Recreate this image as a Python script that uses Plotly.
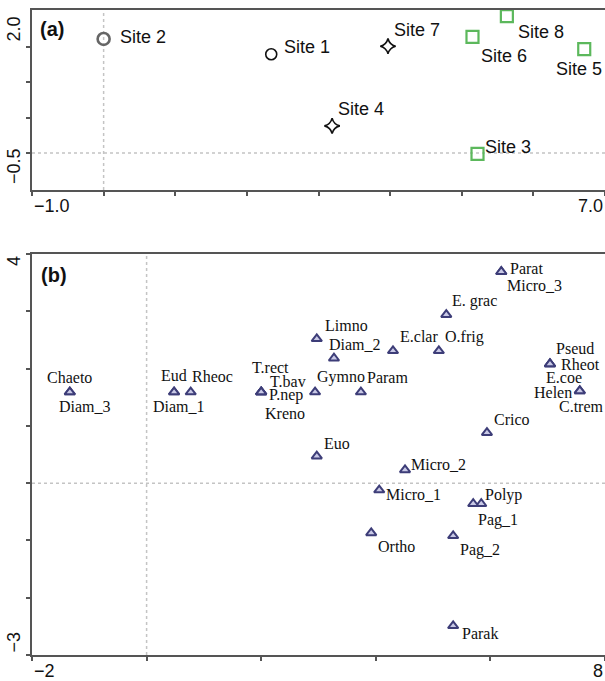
import plotly.graph_objects as go

# ---------------- Panel (a): sites ----------------
site_names = ["Site 1", "Site 2", "Site 3", "Site 4", "Site 5", "Site 6", "Site 7", "Site 8"]
site_x = [2.34, 0.0, 5.22, 3.19, 6.71, 5.15, 3.97, 5.63]
site_y = [1.83, 2.19, -0.52, 0.14, 1.95, 2.24, 2.02, 2.73]
site_group = ["circle", "circle_gray", "square", "star", "square", "square", "star", "square"]

a_xticks = [-1, 0, 1, 2, 3, 4, 5, 6, 7]
a_yticks = [2.0, 1.1667, 0.3333, -0.5]
a_xlabels = {-1: "\u22121.0", 7: "7.0"}
a_ylabels = {2.0: "2.0", -0.5: "\u22120.5"}

# ---------------- Panel (b): taxa ----------------
taxa = ["Chaeto", "Diam_3", "Eud", "Diam_1", "Rheoc", "T.rect", "T.bav", "P.nep", "Kreno",
        "Gymno", "Param", "Limno", "Diam_2", "E.clar", "O.frig", "E. grac", "Parat", "Micro_3",
        "Pseud", "Rheot", "E.coe", "Helen", "C.trem", "Crico", "Euo", "Micro_2", "Micro_1",
        "Polyp", "Pag_1", "Ortho", "Pag_2", "Parak"]
taxa_x = [-1.34, -1.34, 0.48, 0.48, 0.77, 2.0, 2.0, 2.0, 2.0,
          2.94, 3.74, 2.97, 3.27, 4.30, 5.10, 5.23, 6.19, 6.19,
          7.04, 7.04, 7.04, 7.56, 7.56, 5.94, 2.97, 4.51, 4.06,
          5.84, 5.70, 3.92, 5.35, 5.35]
taxa_y = [1.59, 1.59, 1.59, 1.59, 1.59, 1.59, 1.59, 1.59, 1.59,
          1.59, 1.59, 2.52, 2.18, 2.31, 2.31, 2.94, 3.69, 3.69,
          2.08, 2.08, 2.08, 1.61, 1.61, 0.88, 0.47, 0.23, -0.12,
          -0.36, -0.36, -0.87, -0.92, -2.49]

b_xticks = [-2, 0, 2, 4, 6, 8]
b_yticks = [4, 3, 2, 1, 0, -1, -2, -3]
b_xlabels = {-2: "\u22122", 8: "8"}
b_ylabels = {4: "4", -3: "\u22123"}

# ---------------- styles / label placement (pixels) ----------------
site_style = {
    "circle": dict(symbol="circle-open", size=11, color="#111111", line=dict(width=1.6, color="#111111")),
    "circle_gray": dict(symbol="circle-open", size=12, color="#666666", line=dict(width=2.6, color="#666666")),
    "star": dict(symbol="star-diamond-open", size=11, color="#111111", line=dict(width=1.6, color="#111111")),
    "square": dict(symbol="square-open", size=12, color="#5cb85c", line=dict(width=2.2, color="#5cb85c")),
}
# (xanchor, xshift, yshift)
site_label_pos = {
    "Site 1": ("left", 11, 7), "Site 2": ("left", 14, 2), "Site 3": ("left", 5, 7),
    "Site 4": ("left", 4, 17), "Site 5": ("left", -30, -20), "Site 6": ("left", 7, -19),
    "Site 7": ("left", 4, 16), "Site 8": ("left", 9, -16),
}
taxa_label_pos = {
    "Chaeto": ("center", 0, 15), "Diam_3": ("left", -13, -14), "Eud": ("center", 0, 17),
    "Diam_1": ("center", 5, -14), "Rheoc": ("left", -1, 16), "T.rect": ("left", -11, 25),
    "T.bav": ("left", 7, 11), "P.nep": ("left", 6, -3), "Kreno": ("left", 2, -21),
    "Gymno": ("left", 0, 15), "Param": ("left", 4, 15), "Limno": ("left", 6, 13),
    "Diam_2": ("left", -7, 14), "E.clar": ("left", 5, 14), "O.frig": ("left", 4, 14),
    "E. grac": ("left", 4, 14), "Parat": ("left", 7, 3), "Micro_3": ("left", 4, -14),
    "Pseud": ("left", 4, 15), "Rheot": ("left", 9, -1), "E.coe": ("left", -6, -14),
    "Helen": ("right", -6, -2), "C.trem": ("left", -23, -16), "Crico": ("left", 5, 13),
    "Euo": ("left", 5, 13), "Micro_2": ("left", 4, 5), "Micro_1": ("left", 5, -4),
    "Polyp": ("left", 2, 9), "Pag_1": ("left", 3, -16), "Ortho": ("left", 5, -14),
    "Pag_2": ("left", 5, -14), "Parak": ("left", 7, -8),
}

SANS = "Liberation Sans, Arial, sans-serif"
SERIF = "Liberation Serif, Times New Roman, serif"
AXC = "#555555"

fig = go.Figure()

# sites
for grp, st in site_style.items():
    idx = [i for i, g in enumerate(site_group) if g == grp]
    fig.add_trace(go.Scatter(
        x=[site_x[i] for i in idx], y=[site_y[i] for i in idx], mode="markers",
        marker=dict(symbol=st["symbol"], size=st["size"], color=st["color"], line=st["line"]),
        xaxis="x", yaxis="y", showlegend=False, cliponaxis=False, hoverinfo="skip"))

# taxa
fig.add_trace(go.Scatter(
    x=taxa_x, y=taxa_y, mode="markers",
    marker=dict(symbol="triangle-up", size=9, color="#c9c9e6", line=dict(width=2, color="#3d3d78")),
    xaxis="x2", yaxis="y2", showlegend=False, cliponaxis=False, hoverinfo="skip"))

annotations = []
for n, x, y in zip(site_names, site_x, site_y):
    xa, dx, dy = site_label_pos[n]
    annotations.append(dict(x=x, y=y, xref="x", yref="y", text=n, showarrow=False,
                            xanchor=xa, yanchor="middle", xshift=dx, yshift=dy,
                            font=dict(family=SANS, size=18, color="#111111")))
for n, x, y in zip(taxa, taxa_x, taxa_y):
    xa, dx, dy = taxa_label_pos[n]
    annotations.append(dict(x=x, y=y, xref="x2", yref="y2", text=n, showarrow=False,
                            xanchor=xa, yanchor="middle", xshift=dx, yshift=dy,
                            font=dict(family=SERIF, size=16, color="#111111")))

# tick labels
tick_font = dict(family=SANS, size=18, color="#111111")
for v, t in a_xlabels.items():
    annotations.append(dict(x=v, y=0, xref="x", yref="y domain", text=t, showarrow=False,
                            xanchor="left" if v == a_xticks[0] else "right", yanchor="top",
                            yshift=-4, font=tick_font))
for v, t in a_ylabels.items():
    annotations.append(dict(x=0, y=v, xref="paper", yref="y", text=t, showarrow=False,
                            textangle=-90, xanchor="right", xshift=-6,
                            yanchor="bottom" if v == a_yticks[0] else "top",
                            yshift=3 if v == a_yticks[0] else 7, font=tick_font))
for v, t in b_xlabels.items():
    annotations.append(dict(x=v, y=0, xref="x2", yref="y2 domain", text=t, showarrow=False,
                            xanchor="left" if v == b_xticks[0] else "right", yanchor="top",
                            yshift=-4, font=tick_font))
for v, t in b_ylabels.items():
    annotations.append(dict(x=0, y=v, xref="paper", yref="y2", text=t, showarrow=False,
                            textangle=-90, xanchor="right", xshift=-6,
                            yanchor="top" if v == b_yticks[0] else "bottom", font=tick_font))

# panel letters
annotations.append(dict(x=0, y=1, xref="x domain", yref="y domain", text="<b>(a)</b>", showarrow=False,
                        xanchor="left", yanchor="top", xshift=6, yshift=-6,
                        font=dict(family=SANS, size=20, color="#111111")))
annotations.append(dict(x=0, y=1, xref="x2 domain", yref="y2 domain", text="<b>(b)</b>", showarrow=False,
                        xanchor="left", yanchor="top", xshift=7, yshift=-8,
                        font=dict(family=SANS, size=20, color="#111111")))

# dotted reference lines
dot = dict(color="#c4c4c4", width=1.5, dash="dot")
shapes = [
    dict(type="line", xref="x", yref="y domain", x0=0, x1=0, y0=0, y1=1, line=dot, layer="below"),
    dict(type="line", xref="x domain", yref="y", x0=0, x1=1, y0=-0.5, y1=-0.5, line=dot, layer="below"),
    dict(type="line", xref="x2", yref="y2 domain", x0=0, x1=0, y0=0, y1=1, line=dot, layer="below"),
    dict(type="line", xref="x2 domain", yref="y2", x0=0, x1=1, y0=0, y1=0, line=dot, layer="below"),
]

axis_common = dict(showgrid=False, zeroline=False, showline=True, linecolor=AXC, linewidth=2,
                   ticks="outside", ticklen=4, tickwidth=2, tickcolor=AXC, showticklabels=False)

fig.update_layout(
    width=605, height=681,
    margin=dict(l=32, r=0, t=10, b=26),
    paper_bgcolor="white", plot_bgcolor="white",
    xaxis=dict(axis_common, range=[-1, 7], tickvals=a_xticks, mirror=True, anchor="y", domain=[0, 1]),
    yaxis=dict(axis_common, range=[-1.373, 2.873], tickvals=a_yticks, anchor="x", domain=[0.7209, 1.0]),
    xaxis2=dict(axis_common, range=[-2, 8], tickvals=b_xticks, mirror=True, anchor="y2", domain=[0, 1]),
    yaxis2=dict(axis_common, range=[-3, 4], tickvals=b_yticks, anchor="x2", domain=[0, 0.6217]),
    annotations=annotations, shapes=shapes,
)

fig.write_html("out.html", config={"displayModeBar": False},
               post_script="document.body.style.margin='0px';document.body.style.overflow='hidden';")
